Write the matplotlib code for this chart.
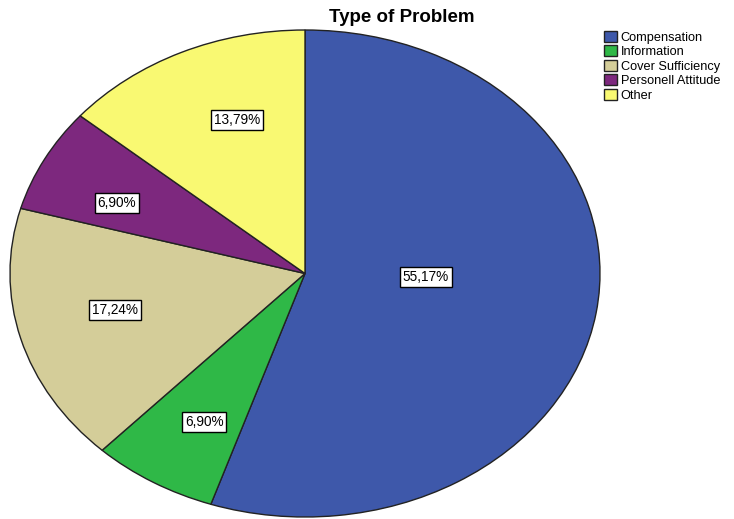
import matplotlib.pyplot as plt
import numpy as np

plt.rcParams['font.family'] = ['Liberation Sans', 'DejaVu Sans']

# problem categories and share of responses (%)
categories = ['Compensation', 'Information', 'Cover Sufficiency',
              'Personell Attitude', 'Other']
shares = [55.17, 6.90, 17.24, 6.90, 13.79]
pct_labels = ['55,17%', '6,90%', '17,24%', '6,90%', '13,79%']
colors = ['#3e58aa', '#2fb847', '#d4cd99', '#7d287e', '#f9f972']

fig = plt.figure(figsize=(7.34, 5.19), dpi=100)
W, H = 734, 519
# axes box == bounding box of the (elliptical) pie
ax = fig.add_axes([10 / W, 2 / H, 590 / W, 487 / H])

wedges, _ = ax.pie(shares, colors=colors, startangle=90, counterclock=False,
                   radius=1.0, wedgeprops=dict(edgecolor='#222222', linewidth=1.0))
for w in wedges:
    w.set_clip_on(False)
ax.set_aspect('auto')
ax.set_xlim(-1, 1)
ax.set_ylim(-1, 1)
ax.axis('off')

# percentage boxes inside each slice (radius / angle nudge per slice)
label_r = [0.41, 0.70, 0.66, 0.70, 0.67]
label_dang = [7.3, 1.8, -2.4, 3.5, -4.7]
for i, w in enumerate(wedges):
    mid = np.deg2rad((w.theta1 + w.theta2) / 2 + label_dang[i])
    r = label_r[i]
    ax.text(r * np.cos(mid), r * np.sin(mid), pct_labels[i],
            ha='center', va='center', fontsize=9.8,
            bbox=dict(boxstyle='square,pad=0.22', facecolor='white',
                      edgecolor='black', linewidth=1.0))

fig.text(402 / W, 1 - 17 / H, 'Type of Problem', ha='center', va='center',
         fontsize=13.5, fontweight='bold')

fig.legend(wedges, categories, loc='upper left', bbox_to_anchor=(604 / W, 1 - 31 / H),
           frameon=False, fontsize=9.2, handlelength=1.0, handleheight=0.95,
           handletextpad=0.3, labelspacing=0.12, borderaxespad=0, borderpad=0)

fig.savefig('out.png', dpi=100, facecolor='white')
